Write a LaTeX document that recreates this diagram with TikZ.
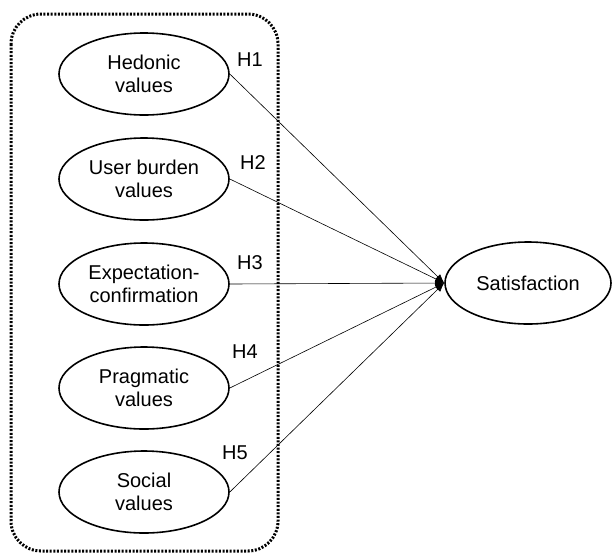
\documentclass[tikz,border=0pt]{standalone}
\usepackage{fontspec}
\setmainfont{Liberation Sans}
\usetikzlibrary{shapes.geometric,arrows.meta,positioning}

\tikzset{
  construct/.style={draw,ellipse,line width=1.6pt,minimum width=170pt,minimum height=82pt,
    inner sep=0pt,align=center,font=\fontsize{20}{23.5}\selectfont},
  hyp/.style={font=\fontsize{20}{22}\selectfont},
  path/.style={line width=0.6pt,-{Latex[length=9pt,width=7pt]}}
}

\begin{document}
\begin{tikzpicture}[x=1pt,y=-1pt]
  \useasboundingbox (0,0) rectangle (612,555);
  % antecedents
  \draw[line width=3pt,dash pattern=on 2pt off 1.6pt,rounded corners=30pt] (11,14) rectangle (278,551);
  \node[construct] (hed) at (144,74) {Hedonic\\values};
  \node[construct] (ub) at (144,179) {User burden\\values};
  \node[construct] (ec) at (144,284) {Expectation-\\confirmation};
  \node[construct] (prag) at (144,388) {Pragmatic\\values};
  \node[construct] (soc) at (144,492) {Social\\values};
  % outcome
  \node[construct,minimum width=166pt] (sat) at (528,283) {Satisfaction};
  % hypotheses
  \node[hyp] (h1) at (250,60) {H1};
  \node[hyp] (h2) at (253,163) {H2};
  \node[hyp] (h3) at (250,263) {H3};
  \node[hyp] (h4) at (245,352) {H4};
  \node[hyp] (h5) at (235,453) {H5};
  \path[path]
    (hed.east) edge (sat.west)
    (ub.east) edge (sat.west)
    (ec.east) edge (sat.west)
    (prag.east) edge (sat.west)
    (soc.east) edge (sat.west);
\end{tikzpicture}
\end{document}
